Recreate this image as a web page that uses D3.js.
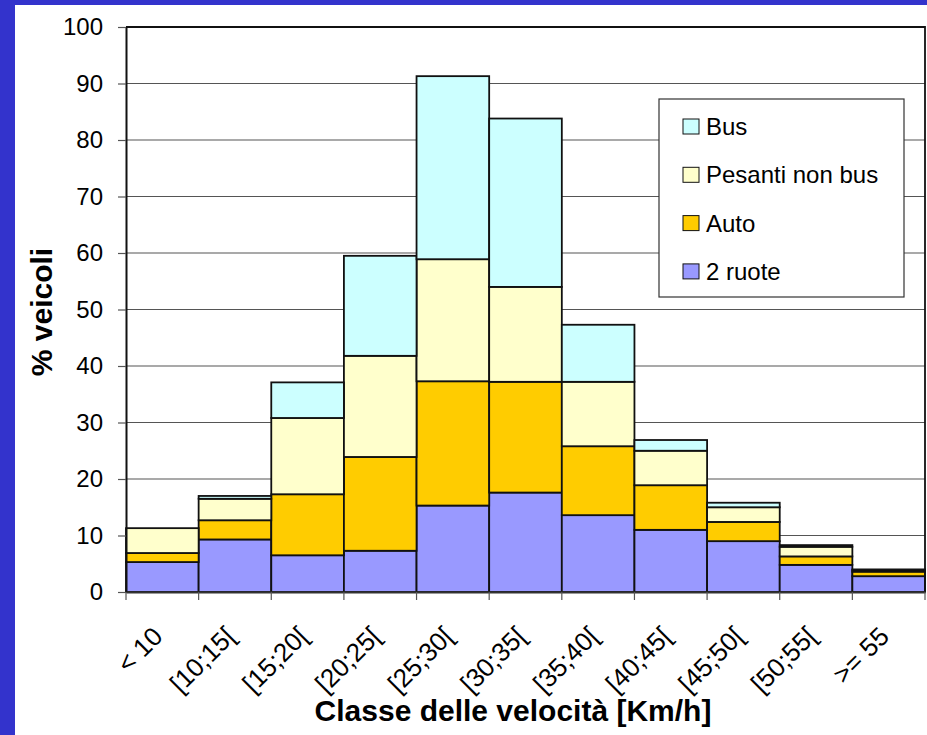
<!DOCTYPE html>
<html>
<head>
<meta charset="utf-8">
<script src="https://cdn.jsdelivr.net/npm/d3@7"></script>
<style>
    body { margin: 0; background: #3333cc; }
    svg { display: block; }
    text { font-family: 'Liberation Sans', Arial, sans-serif; fill: #000; }
</style>
</head>
<body>
<svg id="chart"></svg>
<script>
// Categories (speed classes)
const classes = ['< 10', '[10;15[', '[15;20[', '[20;25[', '[25;30[', '[30;35[', '[35;40[', '[40;45[', '[45;50[', '[50;55[', '>= 55'];

// Series values (% veicoli), bottom to top of the stack
const dueRuote = [5.3, 9.3, 6.5, 7.3, 15.3, 17.6, 13.6, 11.0, 9.0, 4.8, 2.8];
const auto = [1.6, 3.4, 10.8, 16.6, 22.0, 19.6, 12.2, 7.9, 3.4, 1.5, 0.8];
const pesanti = [4.4, 3.8, 13.5, 17.9, 21.6, 16.8, 11.4, 6.1, 2.6, 1.7, 0.3];
const bus = [0, 0.5, 6.3, 17.7, 32.4, 29.8, 10.1, 1.9, 0.8, 0.3, 0.1];

const seriesKeys = ['2 ruote', 'Auto', 'Pesanti non bus', 'Bus'];
const seriesColors = ['#9999ff', '#ffcc00', '#ffffcc', '#ccffff'];

const yTicks = [0, 10, 20, 30, 40, 50, 60, 70, 80, 90, 100];

const config = {
    containerWidth: 927,
    containerHeight: 735,
    margin: { top: 27, bottom: 143, right: 2, left: 126 }
};

const width = config.containerWidth - config.margin.left - config.margin.right;
const height = config.containerHeight - config.margin.top - config.margin.bottom;

// Build rows for the stack layout
const table = classes.map((c, i) => ({
    classe: c,
    '2 ruote': dueRuote[i],
    'Auto': auto[i],
    'Pesanti non bus': pesanti[i],
    'Bus': bus[i]
}));

const stacked = d3.stack().keys(seriesKeys)(table);

const x = d3.scaleBand()
    .domain(classes)
    .range([0, width])
    .padding(0);

const y = d3.scaleLinear()
    .domain([0, 100])
    .range([height, 0]);

const color = d3.scaleOrdinal()
    .domain(seriesKeys)
    .range(seriesColors);

const svg = d3.select('#chart')
    .attr('width', config.containerWidth)
    .attr('height', config.containerHeight);

// White chart area inside the blue frame
svg.append('rect')
    .attr('x', 15)
    .attr('y', 5)
    .attr('width', config.containerWidth - 15)
    .attr('height', config.containerHeight - 5)
    .attr('fill', '#fff');

const chart = svg.append('g')
    .attr('transform', `translate(${config.margin.left}, ${config.margin.top})`);

// Gridlines
chart.append('g')
    .attr('class', 'grid')
    .selectAll('line')
    .data(yTicks.filter(d => d > 0 && d < 100))
    .join('line')
    .attr('x1', 0)
    .attr('x2', width)
    .attr('y1', d => y(d))
    .attr('y2', d => y(d))
    .attr('stroke', '#555')
    .attr('stroke-width', 1.2);

// Stacked bars
chart.append('g')
    .selectAll('g')
    .data(stacked)
    .join('g')
    .attr('fill', d => color(d.key))
    .selectAll('rect')
    .data(d => d)
    .join('rect')
    .attr('x', d => x(d.data.classe))
    .attr('y', d => y(d[1]))
    .attr('width', x.bandwidth())
    .attr('height', d => y(d[0]) - y(d[1]))
    .attr('stroke', '#111')
    .attr('stroke-width', 1.8);

// Plot frame (top and right)
chart.append('path')
    .attr('d', `M0,${y(100)}H${width}V${y(0)}`)
    .attr('fill', 'none')
    .attr('stroke', '#111')
    .attr('stroke-width', 1.8);

// Y axis
const yAxis = d3.axisLeft(y)
    .tickValues(yTicks)
    .tickSize(8)
    .tickSizeOuter(0)
    .tickPadding(15);

const yAxisGroup = chart.append('g')
    .attr('class', 'y-axis')
    .call(yAxis);

yAxisGroup.select('.domain')
    .attr('stroke', '#111')
    .attr('stroke-width', 2);
yAxisGroup.selectAll('.tick line')
    .attr('stroke', '#555')
    .attr('stroke-width', 1.2);
yAxisGroup.selectAll('.tick text')
    .style('font-size', '24px');

// X axis: labels at band centres, tick marks at band edges
const xAxis = d3.axisBottom(x)
    .tickSize(0)
    .tickSizeOuter(0)
    .tickPadding(0);

const xAxisGroup = chart.append('g')
    .attr('class', 'x-axis')
    .attr('transform', `translate(0, ${height})`)
    .call(xAxis);

xAxisGroup.select('.domain')
    .attr('stroke', '#333')
    .attr('stroke-width', 2);

xAxisGroup.selectAll('.tick text')
    .attr('x', 0)
    .attr('y', 0)
    .attr('dy', 0)
    .attr('transform', 'translate(2, 46) rotate(-45)')
    .style('text-anchor', 'end')
    .style('font-size', '26px');

const edges = classes.map(c => x(c)).concat([x.range()[1]]);
xAxisGroup.selectAll('.edge')
    .data(edges)
    .join('line')
    .attr('class', 'edge')
    .attr('x1', d => d)
    .attr('x2', d => d)
    .attr('y1', 0)
    .attr('y2', 8)
    .attr('stroke', '#555')
    .attr('stroke-width', 1.2);

// Axis titles
svg.append('text')
    .attr('x', 513)
    .attr('y', 721)
    .style('text-anchor', 'middle')
    .style('font-size', '30px')
    .style('font-weight', 'bold')
    .text('Classe delle velocità [Km/h]');

svg.append('text')
    .attr('transform', 'translate(52, 312) rotate(-90)')
    .style('text-anchor', 'middle')
    .style('font-size', '30px')
    .style('font-weight', 'bold')
    .text('% veicoli');

// Legend
const legend = svg.append('g')
    .attr('class', 'legend')
    .attr('transform', 'translate(659, 99)');

legend.append('rect')
    .attr('width', 245)
    .attr('height', 198)
    .attr('fill', '#fff')
    .attr('stroke', '#333')
    .attr('stroke-width', 1.2);

const legendItems = legend.selectAll('.item')
    .data(seriesKeys.slice().reverse())
    .join('g')
    .attr('class', 'item')
    .attr('transform', (d, i) => `translate(24, ${27.5 + i * 48.3})`);

legendItems.append('rect')
    .attr('x', 0)
    .attr('y', -7.5)
    .attr('width', 16)
    .attr('height', 15)
    .attr('fill', d => color(d))
    .attr('stroke', '#111')
    .attr('stroke-width', 1);

legendItems.append('text')
    .attr('x', 23)
    .attr('y', 8.5)
    .style('font-size', '24px')
    .text(d => d);
</script>
</body>
</html>
